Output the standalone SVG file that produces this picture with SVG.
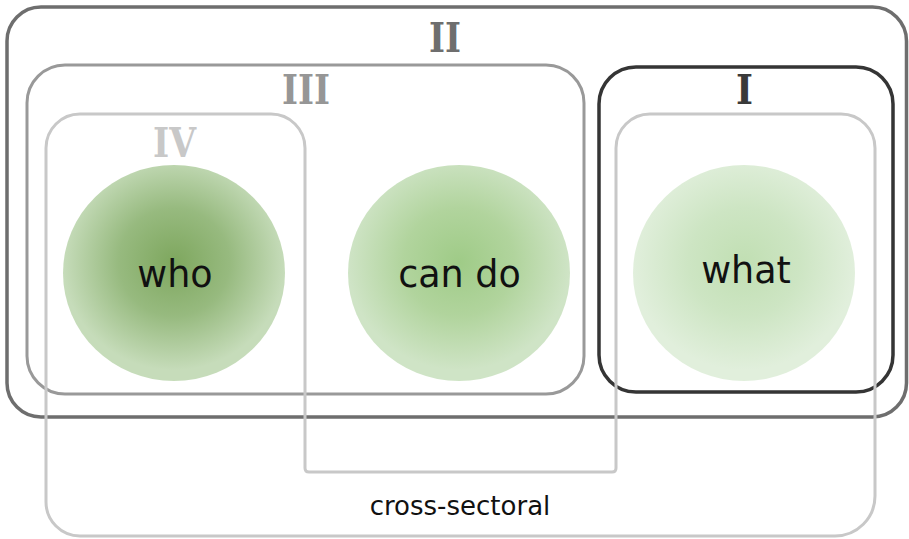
<svg xmlns="http://www.w3.org/2000/svg" width="909" height="539" viewBox="0 0 909 539">
  <defs>
    <radialGradient id="gWho" cx="0.5" cy="0.45" r="0.5">
      <stop offset="0" stop-color="#7ea75e"/>
      <stop offset="0.5" stop-color="#97ba7f"/>
      <stop offset="1" stop-color="#c6dcba"/>
    </radialGradient>
    <radialGradient id="gCan" cx="0.5" cy="0.45" r="0.5">
      <stop offset="0" stop-color="#9fcb87"/>
      <stop offset="0.5" stop-color="#b1d49d"/>
      <stop offset="1" stop-color="#cfe4c6"/>
    </radialGradient>
    <radialGradient id="gWhat" cx="0.5" cy="0.45" r="0.5">
      <stop offset="0" stop-color="#c1dfb3"/>
      <stop offset="0.5" stop-color="#cde5c3"/>
      <stop offset="1" stop-color="#e1efdc"/>
    </radialGradient>
  </defs>
  <style>
    .frame { fill: none; }
    .numeral { font-family: "DejaVu Serif", "Liberation Serif", serif; font-weight: bold; font-size: 41px; }
    .word { font-family: "DejaVu Sans", Verdana, sans-serif; font-size: 36.5px; fill: #111; text-anchor: middle; }
  </style>

  <rect width="909" height="539" fill="#ffffff"/>

  <!-- sets of concern -->
  <g id="node-who">
    <ellipse cx="174" cy="273" rx="111" ry="108" fill="url(#gWho)"/>
    <text class="word" x="175" y="287">who</text>
  </g>
  <g id="node-cando">
    <ellipse cx="459" cy="273" rx="111" ry="108" fill="url(#gCan)"/>
    <text class="word" x="459.5" y="287">can do</text>
  </g>
  <g id="node-what">
    <ellipse cx="744" cy="273" rx="111" ry="108" fill="url(#gWhat)"/>
    <text class="word" x="746" y="283">what</text>
  </g>

  <!-- grouping frames -->
  <g id="frame-II">
    <rect class="frame" x="7" y="7" width="899.5" height="410" rx="34" ry="34" stroke="#6e6e6e" stroke-width="3.5"/>
    <text class="numeral" x="429" y="52" textLength="32" lengthAdjust="spacingAndGlyphs" fill="#6e6e6e">II</text>
  </g>
  <g id="frame-III">
    <rect class="frame" x="27" y="65" width="557" height="329" rx="38" ry="38" stroke="#999999" stroke-width="3"/>
    <text class="numeral" x="282" y="104" textLength="48" lengthAdjust="spacingAndGlyphs" fill="#969696">III</text>
  </g>
  <g id="frame-I">
    <rect class="frame" x="599" y="67" width="294" height="325" rx="37" ry="37" stroke="#353535" stroke-width="3.5"/>
    <text class="numeral" x="736" y="104" textLength="17" lengthAdjust="spacingAndGlyphs" fill="#3a3a3a">I</text>
  </g>

  <!-- cross-sectoral outline joining IV with the "what" set -->
  <g id="connectors">
    <path class="frame" stroke="#c8c8c8" stroke-width="3"
      d="M 80 114 H 271 A 34 34 0 0 1 305 148 V 468 Q 305 472 309 472 H 612 Q 616 472 616 468 V 148 A 34 34 0 0 1 650 114 H 841 A 34 34 0 0 1 875 148 V 496 A 40 40 0 0 1 835 536 H 80 A 34 34 0 0 1 46 502 V 148 A 34 34 0 0 1 80 114 Z"/>
    <text class="numeral" x="153" y="157" textLength="43" lengthAdjust="spacingAndGlyphs" fill="#c8c8c8">IV</text>
    <text x="460" y="515" font-family="DejaVu Sans, Verdana, sans-serif" font-size="26" fill="#111" text-anchor="middle">cross-sectoral</text>
  </g>
</svg>
